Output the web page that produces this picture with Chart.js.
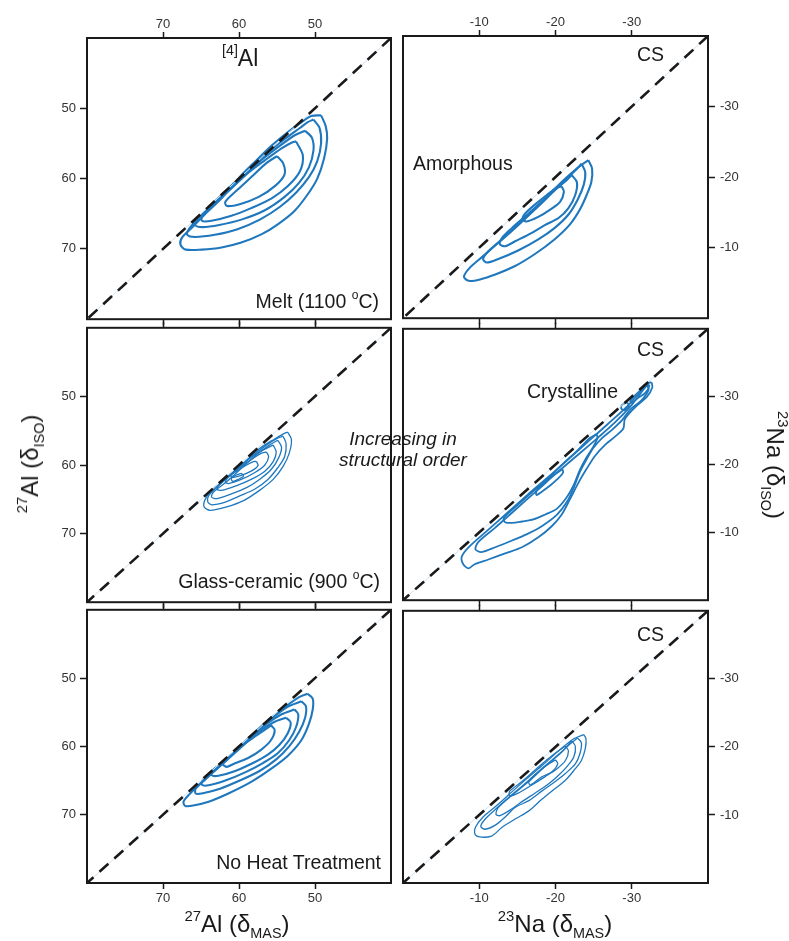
<!DOCTYPE html>
<html>
<head>
<meta charset="utf-8">
<script src="https://cdn.jsdelivr.net/npm/chart.js@4.4.1/dist/chart.umd.min.js"></script>
<style>
  body { margin: 0; background: #fff; }
  #fig { position: relative; width: 789px; height: 941px; font-family: "Liberation Sans", Arial, sans-serif; color: #1a1a1a; overflow: hidden; }
  #fig canvas { position: absolute; }
  .lbl { position: absolute; line-height: 1; white-space: nowrap; font-size: 19.5px; }
  .up { position: relative; font-size: 0.62em; top: -0.75em; }
  .dn { position: relative; font-size: 0.6em; top: 0.45em; }
  .ital { font-style: italic; text-align: center; line-height: 21px; font-size: 19px; }
  .ttl { font-size: 24px; }
</style>
</head>
<body>
<div id="fig">
  <canvas id="tl" width="400" height="331" style="left:0;top:0"></canvas>
  <canvas id="ml" width="400" height="298" style="left:0;top:316px"></canvas>
  <canvas id="bl" width="400" height="317" style="left:0;top:598px"></canvas>
  <canvas id="tr" width="394" height="331" style="left:395px;top:0"></canvas>
  <canvas id="mr" width="394" height="297" style="left:395px;top:316px"></canvas>
  <canvas id="br" width="394" height="317" style="left:395px;top:598px"></canvas>

  <div class="lbl" style="left:222px;top:47px;font-size:23px"><span class="up">[4]</span>Al</div>
  <div class="lbl" style="right:410px;top:292px">Melt (1100 <span class="up">o</span>C)</div>
  <div class="lbl" style="right:409px;top:572px">Glass-ceramic (900 <span class="up">o</span>C)</div>
  <div class="lbl" style="right:408px;top:853px">No Heat Treatment</div>

  <div class="lbl" style="left:637px;top:45px">CS</div>
  <div class="lbl" style="left:413px;top:154px">Amorphous</div>
  <div class="lbl" style="left:637px;top:340px">CS</div>
  <div class="lbl" style="left:527px;top:382px">Crystalline</div>
  <div class="lbl" style="left:637px;top:625px">CS</div>

  <div class="lbl ital" style="left:303px;top:428px;width:200px">Increasing in<br>structural order</div>

  <div class="lbl ttl" style="left:30px;top:464px;transform:translate(-50%,-50%) rotate(-90deg)"><span class="up">27</span>Al (δ<span class="dn">ISO</span>)</div>
  <div class="lbl ttl" style="left:775px;top:465px;transform:translate(-50%,-50%) rotate(90deg)"><span class="up">23</span>Na (δ<span class="dn">ISO</span>)</div>
  <div class="lbl ttl" style="left:237px;top:912px;transform:translateX(-50%)"><span class="up">27</span>Al (δ<span class="dn">MAS</span>)</div>
  <div class="lbl ttl" style="left:555px;top:912px;transform:translateX(-50%)"><span class="up">23</span>Na (δ<span class="dn">MAS</span>)</div>
</div>

<script>
// axis ranges and tick marks (ppm)
const alRange = [40, 80];
const naRange = [-40, 0];
const alTicks = [70, 60, 50];
const naTicks = [-10, -20, -30];

// contour levels, outermost first; points are [δMAS, δISO]
const alMelt = [
  [[49.2,51.0],[48.6,52.5],[48.4,54.3],[48.8,57.1],[49.7,60.0],[51.0,62.3],[52.7,64.6],[54.9,66.5],[57.0,67.9],[59.7,69.1],[62.3,69.8],[64.9,70.1],[67.0,70.1],[67.7,69.4],[67.5,68.4],[66.2,67.0],[64.5,65.1],[62.3,62.8],[60.1,60.0],[57.9,57.6],[55.7,55.3],[53.6,53.4],[51.8,52.0],[50.5,51.1]],
  [[50.2,51.6],[49.4,52.8],[49.2,55.0],[49.7,57.5],[50.8,59.8],[52.5,62.0],[54.6,64.0],[57.2,65.8],[60.2,67.2],[63.2,68.0],[65.8,68.3],[66.8,68.0],[66.6,67.2],[65.3,65.6],[63.3,63.4],[61.0,61.0],[58.6,58.6],[56.2,56.3],[53.9,54.3],[52.0,52.8],[51.0,52.0]],
  [[51.3,53.2],[50.4,54.2],[50.2,56.0],[50.8,58.4],[52.1,60.6],[54.0,62.6],[56.6,64.5],[59.6,65.8],[62.6,66.6],[64.8,66.9],[65.8,66.6],[65.5,65.8],[63.8,64.0],[61.6,61.8],[59.3,59.5],[57.0,57.3],[54.6,55.3],[52.6,53.8]],
  [[52.5,54.7],[51.6,56.7],[52.0,59.0],[53.6,61.1],[55.7,62.8],[58.4,64.2],[61.0,65.3],[63.6,66.0],[64.9,66.0],[64.7,65.1],[63.1,63.5],[61.0,61.4],[58.8,59.2],[56.6,57.4],[54.4,55.7],[53.1,54.9]],
  [[55.0,56.8],[54.2,57.8],[54.0,59.4],[55.2,61.0],[57.4,62.6],[59.8,63.6],[61.6,63.9],[61.8,63.3],[60.2,61.6],[58.2,59.6],[56.4,57.8]]
];

const alGlass = [
  [[53.6,55.2],[53.1,56.3],[53.4,58.3],[54.2,60.2],[55.5,62.1],[57.3,63.7],[59.4,65.2],[61.6,66.1],[63.8,66.6],[64.6,66.1],[64.4,64.9],[63.4,63.5],[61.6,61.8],[59.4,59.7],[57.3,57.6],[55.3,56.2],[54.2,55.5]],
  [[54.2,55.8],[53.8,56.9],[54.0,58.8],[54.9,60.4],[56.2,62.1],[57.9,63.5],[59.9,64.5],[61.8,65.4],[63.6,65.8],[64.1,65.4],[64.0,64.5],[62.7,63.0],[60.7,61.1],[58.6,59.0],[56.4,57.1],[55.1,56.2]],
  [[54.9,56.4],[54.4,57.4],[54.8,59.0],[55.8,60.7],[57.3,62.1],[59.0,63.3],[61.0,64.2],[62.9,64.9],[63.6,64.7],[63.4,64.0],[61.8,62.6],[59.9,60.7],[57.7,58.5],[56.0,57.1]],
  [[55.5,57.1],[55.1,58.1],[55.5,59.5],[56.6,60.9],[58.4,62.1],[60.3,63.0],[62.3,63.7],[62.9,63.5],[62.5,62.8],[60.7,61.1],[58.8,59.2],[56.8,57.8]],
  [[56.4,58.1],[56.1,58.8],[56.6,60.0],[57.9,61.1],[59.7,62.1],[61.4,62.7],[61.8,62.5],[61.4,61.8],[59.9,60.4],[58.1,59.0],[57.1,58.3]],
  [[57.7,59.5],[57.5,60.1],[58.4,60.9],[59.9,61.6],[60.8,61.8],[61.1,61.5],[60.3,60.9],[59.0,60.0],[58.1,59.5]],
  [[59.7,61.2],[59.4,61.6],[60.1,62.1],[60.8,62.4],[61.0,62.0],[60.4,61.5]]
];

const alRaw = [
  [[51.0,52.3],[50.3,53.0],[50.3,54.6],[50.8,56.7],[51.8,59.1],[53.6,61.4],[55.8,63.3],[58.4,65.2],[61.4,66.9],[64.0,68.1],[66.2,68.7],[67.1,68.7],[67.3,68.1],[66.6,67.1],[64.9,65.2],[62.7,63.1],[60.5,60.7],[58.4,58.4],[56.2,56.2],[54.0,54.3],[52.1,52.8]],
  [[51.8,53.4],[51.2,54.1],[51.3,55.8],[52.1,57.9],[53.4,60.0],[55.1,61.9],[57.3,63.6],[59.9,65.0],[62.5,66.2],[64.9,66.9],[65.7,66.9],[65.7,66.2],[64.4,64.8],[62.3,62.6],[60.1,60.3],[57.9,58.1],[55.8,56.0],[53.6,54.2]],
  [[52.7,54.6],[52.2,55.3],[52.5,57.2],[53.4,59.1],[54.9,61.0],[56.8,62.4],[59.2,63.8],[61.8,65.0],[64.0,65.7],[64.9,65.6],[64.7,64.8],[63.1,63.3],[61.0,61.2],[58.8,59.1],[56.6,56.9],[54.4,55.3]],
  [[53.8,55.8],[53.2,56.5],[53.6,58.1],[54.7,59.8],[56.2,61.2],[58.1,62.4],[60.5,63.6],[62.7,64.3],[63.6,64.2],[63.4,63.4],[61.8,62.2],[59.9,60.3],[57.7,58.1],[55.5,56.5]],
  [[55.8,56.9],[55.3,57.6],[55.8,59.1],[57.1,60.5],[58.8,61.7],[60.8,62.6],[61.6,63.0],[62.1,62.6],[61.4,61.7],[59.7,60.0],[57.7,58.4],[56.4,57.4]]
];

const naMelt = [
  [[-24.3,-22.4],[-24.8,-21.2],[-24.7,-19.3],[-24.1,-17.5],[-23.2,-15.4],[-21.9,-13.3],[-19.9,-11.2],[-17.3,-9.1],[-14.7,-7.4],[-12.1,-6.2],[-10.1,-5.5],[-8.6,-5.3],[-8.0,-5.9],[-8.8,-7.2],[-10.5,-8.8],[-12.5,-10.7],[-14.7,-12.8],[-16.9,-15.1],[-19.1,-17.5],[-21.3,-19.8],[-23.0,-21.4]],
  [[-23.4,-21.9],[-23.9,-20.7],[-23.7,-18.9],[-22.9,-16.8],[-21.7,-14.7],[-19.9,-12.8],[-17.8,-11.2],[-15.1,-9.6],[-12.5,-8.4],[-11.0,-7.9],[-10.5,-8.4],[-11.2,-9.5],[-13.0,-11.2],[-15.1,-13.2],[-17.3,-15.4],[-19.5,-17.7],[-21.7,-20.0],[-23.0,-21.4]],
  [[-22.1,-20.3],[-22.8,-19.3],[-22.6,-17.5],[-21.7,-15.6],[-20.4,-14.2],[-18.6,-13.2],[-16.9,-12.1],[-14.7,-10.9],[-13.4,-10.2],[-12.7,-10.5],[-13.0,-11.4],[-14.3,-12.8],[-16.0,-14.4],[-18.2,-16.5],[-19.9,-18.2],[-21.5,-19.6]],
  [[-20.8,-18.7],[-21.1,-17.9],[-20.6,-16.5],[-19.3,-15.4],[-17.8,-14.4],[-16.2,-13.7],[-15.7,-14.1],[-16.0,-14.8],[-17.3,-16.1],[-18.9,-17.5],[-20.2,-18.5]]
];

const naGlass = [
  [[-32.6,-32.1],[-32.7,-31.4],[-32.0,-30.0],[-30.4,-28.4],[-29.1,-26.7],[-28.9,-25.3],[-27.8,-24.1],[-26.5,-22.9],[-25.2,-21.3],[-24.1,-19.4],[-23.0,-17.3],[-21.9,-14.9],[-20.8,-12.6],[-19.5,-10.9],[-17.8,-9.3],[-15.6,-7.8],[-13.4,-6.9],[-11.2,-6.0],[-9.4,-5.3],[-8.6,-4.7],[-7.9,-5.3],[-7.7,-6.4],[-8.6,-7.8],[-11.2,-10.4],[-13.8,-13.0],[-16.4,-15.6],[-19.1,-18.2],[-21.7,-20.8],[-24.3,-23.4],[-26.9,-26.0],[-29.6,-28.8],[-31.3,-31.0],[-32.1,-32.0]],
  [[-32.0,-31.7],[-32.2,-31.0],[-31.3,-29.5],[-29.8,-28.1],[-28.7,-26.5],[-27.4,-25.1],[-26.1,-23.9],[-25.0,-22.5],[-24.1,-20.8],[-23.2,-18.9],[-22.4,-16.6],[-21.5,-14.5],[-20.2,-12.6],[-18.2,-10.9],[-16.2,-9.7],[-14.3,-8.8],[-12.1,-7.8],[-10.3,-7.1],[-9.5,-7.5],[-9.9,-8.6],[-12.1,-10.7],[-14.7,-13.3],[-17.3,-15.9],[-19.9,-18.5],[-22.6,-21.1],[-25.2,-23.6],[-27.8,-26.2],[-30.0,-28.8],[-31.3,-30.7]],
  [[-25.4,-24.5],[-25.5,-23.9],[-25.0,-22.7],[-24.1,-21.1],[-23.2,-19.2],[-22.4,-17.0],[-21.5,-15.2],[-20.2,-13.5],[-18.6,-12.6],[-17.1,-11.9],[-15.6,-11.6],[-14.3,-11.4],[-13.4,-11.5],[-13.2,-12.1],[-14.3,-13.3],[-16.4,-15.4],[-18.6,-17.5],[-20.8,-19.9],[-23.0,-22.2],[-24.5,-23.9]],
  [[-20.9,-19.3],[-21.0,-18.8],[-20.2,-17.8],[-19.3,-16.9],[-18.2,-16.0],[-17.5,-15.5],[-17.5,-16.1],[-18.4,-17.0],[-19.7,-18.4]],
  [[-31.1,-31.0],[-31.8,-31.8],[-32.3,-31.6],[-31.8,-30.6],[-30.8,-29.8],[-30.0,-29.1],[-29.8,-29.3],[-30.4,-30.2]],
  [[-28.7,-28.8],[-29.4,-29.1],[-29.6,-28.5],[-29.0,-28.0],[-28.6,-28.3]]
];

const naRaw = [
  [[-23.7,-21.8],[-24.0,-21.2],[-23.9,-19.7],[-23.4,-18.0],[-22.6,-16.8],[-21.3,-15.1],[-19.5,-13.5],[-18.2,-12.3],[-16.5,-10.6],[-14.7,-9.4],[-13.0,-8.2],[-11.6,-6.9],[-9.9,-6.8],[-9.4,-7.3],[-9.5,-8.2],[-10.5,-9.7],[-12.1,-11.2],[-14.0,-13.1],[-16.2,-15.3],[-18.4,-17.4],[-20.6,-19.6],[-22.4,-21.2]],
  [[-22.9,-21.3],[-23.4,-20.6],[-23.2,-19.0],[-22.6,-17.5],[-21.3,-16.1],[-19.7,-14.7],[-18.2,-13.5],[-16.5,-12.1],[-14.7,-11.1],[-13.4,-9.7],[-12.1,-8.5],[-10.8,-7.9],[-10.2,-8.3],[-10.7,-9.3],[-12.1,-10.8],[-14.0,-12.7],[-16.2,-14.8],[-18.4,-17.0],[-20.6,-19.1],[-22.1,-20.6]],
  [[-22.1,-20.9],[-22.6,-20.1],[-22.4,-18.5],[-21.5,-17.1],[-20.2,-15.6],[-18.9,-14.4],[-17.3,-13.2],[-15.8,-12.1],[-14.3,-10.9],[-12.7,-9.9],[-12.2,-10.1],[-12.5,-11.1],[-14.3,-12.9],[-16.5,-14.9],[-18.6,-17.1],[-20.8,-19.2]],
  [[-21.3,-20.1],[-21.7,-19.4],[-21.3,-18.0],[-20.2,-16.8],[-18.6,-15.6],[-16.9,-14.4],[-15.1,-13.2],[-14.0,-12.8],[-14.0,-13.5],[-15.6,-14.9],[-17.8,-17.1],[-20.0,-19.1]],
  [[-20.0,-18.1],[-20.3,-17.5],[-19.5,-16.3],[-18.2,-15.6],[-16.7,-14.4],[-16.5,-14.9],[-17.5,-16.1],[-19.1,-17.5]]
];

const BLUE = '#1f78be';
const INK = '#1a1a1a';
const tickFont = { family: '"Liberation Sans", Arial, sans-serif', size: 13 };

// box round each plot area
const frame = {
  id: 'frame',
  afterDraw(chart) {
    const { ctx, chartArea: a } = chart;
    ctx.save();
    ctx.strokeStyle = INK;
    ctx.lineWidth = 2;
    ctx.strokeRect(a.left, a.top, a.right - a.left, a.bottom - a.top);
    ctx.restore();
  }
};

function axis(position, range, ticks, size, showLabels, tickLen, pad) {
  const horiz = position === 'top' || position === 'bottom';
  return {
    type: 'linear',
    axis: horiz ? 'x' : 'y',
    position,
    min: range[0],
    max: range[1],
    reverse: true,
    afterBuildTicks: s => { s.ticks = ticks.map(v => ({ value: v })); },
    afterFit: s => { if (horiz) s.height = size; else s.width = size; },
    ticks: { display: showLabels, font: tickFont, color: '#333', padding: pad },
    grid: { display: ticks.length > 0, drawOnChartArea: false, drawTicks: true, tickLength: tickLen, tickColor: INK, tickWidth: 1.5 },
    border: { display: false }
  };
}

function panel(id, p) {
  const r = p.range;
  const diag = [{ x: r[0], y: r[0] }, { x: r[1], y: r[1] }];
  const datasets = [
    { data: diag, showLine: true, borderColor: INK, borderWidth: 2.6, borderDash: [12, 8], pointRadius: 0, order: 0 },
    { data: diag, showLine: true, borderColor: '#cfe2f2', borderWidth: 1, pointRadius: 0, order: 1 }
  ];
  p.contours.forEach(c => {
    datasets.push({
      data: c.concat([c[0]]).map(q => ({ x: q[0], y: q[1] })),
      showLine: true, borderColor: BLUE, borderWidth: p.lw, pointRadius: 0,
      tension: 0.3, order: 2
    });
  });
  new Chart(document.getElementById(id), {
    type: 'scatter',
    data: { datasets },
    options: {
      responsive: false,
      animation: false,
      events: [],
      layout: { padding: p.padding },
      plugins: { legend: { display: false }, tooltip: { enabled: false } },
      scales: {
        x: axis('bottom', r, p.ticks, p.bottomH, p.bottomLabels, 6, 2),
        xTop: axis('top', r, p.ticks, p.topH, p.topLabels, 6, 0),
        y: axis(p.side, r, p.ticks, p.sideW, true, 7, p.side === 'left' ? 4 : 5)
      }
    },
    plugins: [frame]
  });
}

const leftPad = { left: 0, right: 9, top: 0, bottom: 0 };
const rightPad = { left: 8, right: 0, top: 0, bottom: 0 };

panel('tl', { range: alRange, ticks: alTicks, contours: alMelt, lw: 2.1, padding: leftPad, side: 'left', sideW: 87, topH: 38, topLabels: true, bottomH: 8, bottomLabels: false });
panel('ml', { range: alRange, ticks: alTicks, contours: alGlass, lw: 1.3, padding: leftPad, side: 'left', sideW: 87, topH: 8, topLabels: false, bottomH: 8, bottomLabels: false });
panel('bl', { range: alRange, ticks: alTicks, contours: alRaw, lw: 2.1, padding: leftPad, side: 'left', sideW: 87, topH: 8, topLabels: false, bottomH: 32, bottomLabels: true });

panel('tr', { range: naRange, ticks: naTicks, contours: naMelt, lw: 2.1, padding: rightPad, side: 'right', sideW: 81, topH: 36, topLabels: true, bottomH: 8, bottomLabels: false });
panel('mr', { range: naRange, ticks: naTicks, contours: naGlass, lw: 1.8, padding: rightPad, side: 'right', sideW: 81, topH: 8, topLabels: false, bottomH: 8, bottomLabels: false });
panel('br', { range: naRange, ticks: naTicks, contours: naRaw, lw: 1.3, padding: rightPad, side: 'right', sideW: 81, topH: 8, topLabels: false, bottomH: 32, bottomLabels: true });
</script>
</body>
</html>
